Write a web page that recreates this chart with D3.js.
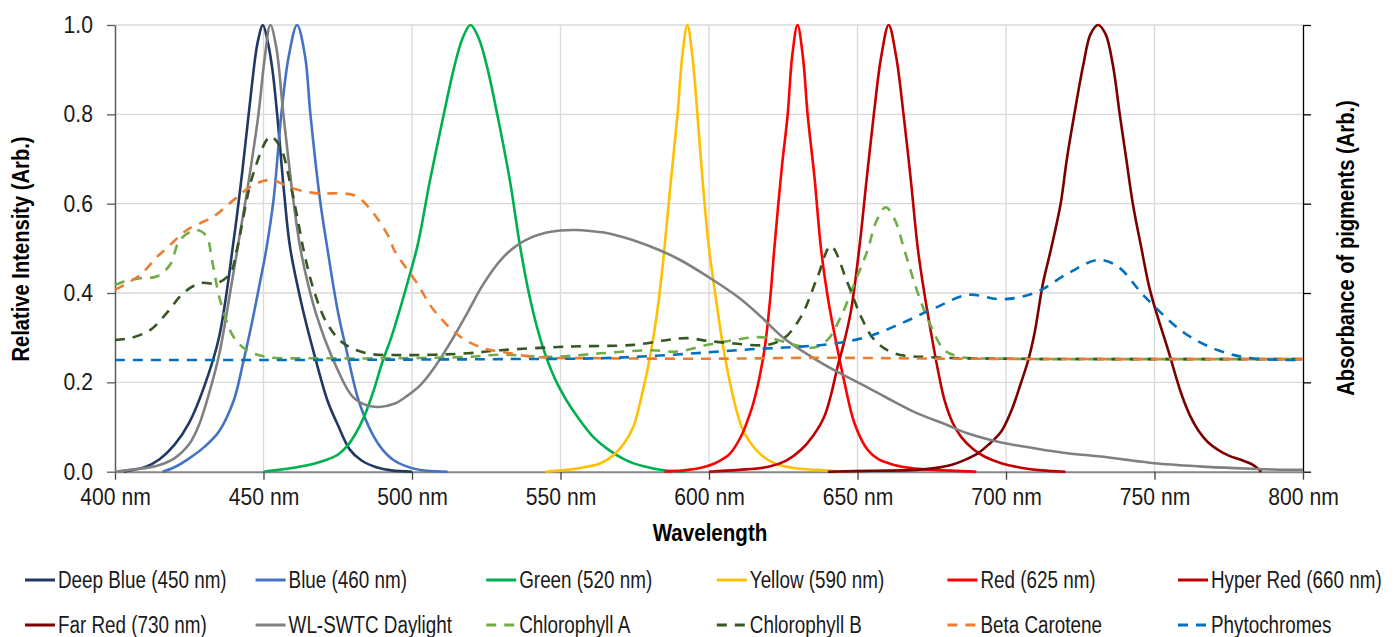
<!DOCTYPE html>
<html>
<head>
<meta charset="utf-8">
<script src="https://cdn.jsdelivr.net/npm/d3@7"></script>
<style>
  body { margin: 0; background: #fff; }
  text { font-family: "Liberation Sans", Arial, sans-serif; }
</style>
</head>
<body>
<div id="chart"></div>
<script>
"use strict";

// ---- data (wavelength nm, value) ----
const wavelengthTicks = [400, 450, 500, 550, 600, 650, 700, 750, 800];
const intensityTicks = [0, 0.2, 0.4, 0.6, 0.8, 1.0];

const seriesNames = [
  "Deep Blue (450 nm)", "Blue (460 nm)", "Green (520 nm)", "Yellow (590 nm)",
  "Red (625 nm)", "Hyper Red (660 nm)", "Far Red (730 nm)", "WL-SWTC Daylight",
  "Chlorophyll A", "Chlorophyll B", "Beta Carotene", "Phytochromes"
];

const deepBlue = [[403,0],[405,0.003],[410,0.01],[415,0.028],[420,0.06],[425,0.11],[430,0.19],[435,0.3],
  [440,0.52],[443,0.68],[446,0.86],[448,0.96],[449.8,1.0],[451.5,0.96],[453,0.9],[454.6,0.8],[457,0.62],
  [459,0.5],[463,0.37],[466.8,0.27],[471.5,0.16],[475,0.105],[479,0.05],[483,0.025],[488,0.01],[493,0.003],[500,0]];

const blue = [[416,0],[420,0.01],[425,0.03],[430,0.055],[435,0.09],[440,0.16],[443,0.24],[446,0.33],[449,0.43],
  [451,0.5],[453.4,0.61],[456,0.8],[458.5,0.93],[461.3,1.0],[464,0.93],[465.8,0.8],[469,0.61],[471.5,0.5],
  [475,0.36],[478,0.27],[482,0.16],[487,0.08],[490,0.05],[494,0.025],[500,0.008],[505,0.002],[512,0]];

const green = [[450,0],[455,0.004],[462,0.011],[467,0.018],[471,0.026],[475,0.038],[478,0.056],[481,0.085],
  [484,0.125],[487,0.18],[490,0.245],[493,0.3],[496,0.365],[499,0.435],[502,0.51],[506,0.65],[510.7,0.8],
  [514,0.9],[517,0.97],[519.7,1.0],[522.5,0.97],[525.5,0.9],[528.7,0.8],[533,0.65],[536.5,0.5],[540,0.38],
  [544,0.28],[548,0.21],[552,0.16],[556,0.12],[561,0.078],[566,0.05],[572,0.026],[578,0.012],[584,0.004],[592,0]];

const yellow = [[545,0],[552,0.004],[558,0.01],[563.5,0.019],[568,0.038],[571.5,0.064],[574.5,0.1],[577,0.16],
  [580.5,0.27],[583,0.38],[585,0.5],[587,0.64],[589.4,0.8],[591,0.93],[592.7,1.0],[594.4,0.93],[596.1,0.8],
  [598,0.64],[600,0.5],[602.5,0.38],[605,0.27],[608.4,0.16],[611,0.1],[614,0.064],[617.5,0.038],[622,0.019],
  [628,0.009],[636,0.004],[645,0]];

const red = [[585,0],[593,0.004],[598,0.01],[602,0.019],[607,0.04],[610.7,0.078],[613,0.115],[615.2,0.16],
  [618.6,0.27],[620.5,0.38],[622,0.5],[624.5,0.68],[626.5,0.8],[628,0.93],[629.8,1.0],[631.6,0.93],[633.2,0.8],
  [635.5,0.66],[637.7,0.5],[640,0.39],[642.2,0.31],[645.6,0.2],[649,0.108],[653.4,0.049],[657,0.028],
  [662.4,0.015],[668,0.008],[676,0.004],[690,0]];

const hyperRed = [[600,0],[610,0.004],[620,0.011],[626,0.025],[631,0.049],[635,0.08],[638.8,0.123],[641,0.17],
  [643.3,0.235],[645.5,0.29],[647.8,0.36],[650.6,0.5],[653,0.65],[655.5,0.8],[658,0.93],[660.5,1.0],
  [663,0.93],[665.5,0.8],[668,0.65],[670.3,0.5],[672.5,0.4],[674.8,0.31],[677,0.23],[679.3,0.16],[682,0.11],
  [684.9,0.078],[689,0.05],[692.7,0.034],[698.4,0.019],[705,0.009],[712,0.003],[720,0]];

const farRed = [[640,0],[655,0.002],[670,0.004],[676,0.008],[681.5,0.015],[686,0.026],[690.5,0.041],[694,0.06],
  [698.4,0.09],[702,0.14],[705,0.198],[707.5,0.25],[709.6,0.31],[712.4,0.42],[715.2,0.5],[718.4,0.6],
  [720.5,0.7],[723,0.8],[726,0.91],[728.5,0.98],[731,1.0],[733.5,0.98],[736,0.91],[738.3,0.8],[740.5,0.7],
  [742.7,0.6],[745.6,0.5],[748,0.42],[750,0.37],[754.6,0.272],[759,0.175],[762,0.125],[764.7,0.093],
  [768,0.066],[771.4,0.049],[775,0.036],[779.3,0.026],[783,0.016],[786,0]];

const daylight = [[400,0],[405,0.004],[410,0.008],[415,0.015],[420,0.03],[425,0.062],[428,0.1],[431,0.16],
  [435,0.26],[439,0.41],[442,0.53],[445,0.65],[448.3,0.8],[450.3,0.92],[452.3,1.0],[454.3,0.95],[456.7,0.8],
  [460,0.61],[462.4,0.5],[465,0.42],[468,0.347],[473.5,0.25],[480,0.168],[485,0.148],[489,0.145],[494,0.152],
  [498,0.168],[503,0.195],[507,0.228],[513,0.29],[518.6,0.355],[524,0.42],[530,0.475],[535,0.505],[540,0.524],
  [545,0.535],[550,0.54],[555,0.541],[560,0.539],[565,0.535],[570,0.527],[575,0.517],[583,0.497],[590,0.475],
  [600,0.435],[610,0.39],[617.5,0.347],[625,0.3],[635,0.255],[642,0.228],[653,0.19],[660,0.165],[670,0.131],
  [680,0.105],[687,0.086],[698,0.066],[710,0.052],[720,0.042],[732,0.034],[740,0.027],[750,0.019],[765,0.012],
  [777,0.008],[790,0.005],[800,0.004]];

const chlorophyllA = [[400,0.418],[404,0.428],[408.4,0.433],[414,0.437],[418.5,0.463],[421.9,0.519],[427.5,0.541],
  [430.9,0.526],[432.5,0.48],[435.4,0.384],[439.9,0.302],[444.4,0.272],[451,0.257],[470,0.254],[496,0.254],
  [518.6,0.257],[530,0.262],[546.7,0.257],[563.5,0.265],[580.4,0.272],[589.4,0.269],[599.5,0.284],[608.5,0.295],
  [615.2,0.301],[620.8,0.299],[628.7,0.284],[635.4,0.278],[639.9,0.295],[644.4,0.347],[649,0.422],[653.4,0.496],
  [656.3,0.56],[659.5,0.592],[662.5,0.565],[665.8,0.496],[670.3,0.4],[674.8,0.325],[679.3,0.272],[684.9,0.257],
  [700,0.253],[750,0.252],[800,0.252]];

const chlorophyllB = [[400,0.295],[405,0.299],[411.8,0.317],[417.4,0.355],[423,0.4],[428.7,0.422],[434.3,0.422],
  [438.8,0.444],[441,0.496],[446.6,0.668],[452.3,0.75],[455.6,0.728],[459,0.646],[462.4,0.534],[463.5,0.496],
  [466.9,0.407],[471.4,0.332],[477,0.287],[484.9,0.265],[496,0.261],[518.6,0.265],[529.8,0.272],[552.3,0.28],
  [574.7,0.284],[586,0.295],[592.7,0.299],[599.5,0.293],[608.5,0.287],[619.7,0.284],[625.3,0.299],[631,0.347],
  [636.6,0.437],[641,0.505],[646.7,0.422],[651.2,0.347],[655.7,0.295],[662.4,0.265],[675.9,0.256],[700,0.253],
  [750,0.252],[800,0.252]];

const betaCarotene = [[400,0.407],[408.4,0.44],[414,0.48],[417.4,0.5],[424.2,0.541],[433.1,0.571],[439.9,0.608],
  [446.6,0.642],[452.3,0.653],[460.1,0.634],[468,0.623],[477,0.623],[481.5,0.616],[487.1,0.578],[492.7,0.519],
  [494,0.496],[501.7,0.422],[507.3,0.362],[516.3,0.302],[524.2,0.276],[529.8,0.269],[541,0.257],[563.5,0.254],
  [600,0.253],[640,0.255],[680,0.253],[750,0.252],[800,0.252]];

const phytochromes = [[400,0.25],[450,0.25],[500,0.251],[529.8,0.252],[563.5,0.254],[580.4,0.259],[597.2,0.266],
  [614,0.274],[631,0.28],[642.2,0.287],[653.4,0.302],[664.7,0.332],[675.9,0.366],[687.2,0.396],[698.4,0.386],
  [709.6,0.4],[720.9,0.444],[731,0.474],[737.7,0.459],[746.7,0.392],[760.2,0.31],[771.4,0.272],[782.7,0.254],
  [800,0.25]];

// ---- styles ----
const seriesData = [deepBlue, blue, green, yellow, red, hyperRed, farRed, daylight,
  chlorophyllA, chlorophyllB, betaCarotene, phytochromes];
const seriesColors = ["#203864", "#4472C4", "#00B050", "#FFC000", "#FF0000", "#C00000", "#7B0000", "#808080",
  "#70AD47", "#375623", "#ED7D31", "#0070C0"];
const seriesDashed = [false, false, false, false, false, false, false, false, true, true, true, true];

const W = 1400, H = 637;
const plot = { left: 115, right: 1303, top: 25, bottom: 471.7 };
const narrow = 0.82;     // horizontal squeeze for legend text
const tickNarrow = 0.92; // tick labels are a bit wider
const titleNarrow = 0.84;

const svg = d3.select("#chart").append("svg").attr("width", W).attr("height", H);

const x = d3.scaleLinear().domain([400, 800]).range([plot.left, plot.right]);
const y = d3.scaleLinear().domain([0, 1]).range([plot.bottom, plot.top]);

// gridlines
svg.append("g").selectAll("line").data(intensityTicks.filter(d => d > 0)).enter().append("line")
  .attr("x1", plot.left).attr("x2", plot.right)
  .attr("y1", d => y(d)).attr("y2", d => y(d))
  .attr("stroke", "#d9d9d9").attr("stroke-width", 1.3);
svg.append("g").selectAll("line").data(wavelengthTicks.slice(1, -1)).enter().append("line")
  .attr("x1", d => x(d)).attr("x2", d => x(d))
  .attr("y1", plot.top).attr("y2", plot.bottom)
  .attr("stroke", "#d9d9d9").attr("stroke-width", 1.3);

// axes
const leftAxis = svg.append("g").attr("transform", `translate(${plot.left},0)`)
  .call(d3.axisLeft(y).tickValues(intensityTicks).tickFormat(d3.format(".1f")).tickSize(8).tickSizeOuter(0).tickPadding(14));
leftAxis.select(".domain").attr("stroke", "#595959").attr("stroke-width", 1.5);
leftAxis.selectAll(".tick line").attr("stroke", "#595959").attr("stroke-width", 1.3);

const rightAxis = svg.append("g").attr("transform", `translate(${plot.right},0)`)
  .call(d3.axisRight(y).tickValues(intensityTicks).tickFormat("").tickSize(8).tickSizeOuter(0));
rightAxis.select(".domain").attr("stroke", "#000").attr("stroke-width", 1.3);
rightAxis.selectAll(".tick line").attr("stroke", "#000").attr("stroke-width", 1.3);

const bottomAxis = svg.append("g").attr("transform", `translate(0,${plot.bottom})`)
  .call(d3.axisBottom(x).tickValues(wavelengthTicks).tickFormat(d => d + " nm").tickSize(8).tickSizeOuter(0).tickPadding(9));
bottomAxis.select(".domain").attr("stroke", "#868686").attr("stroke-width", 2);
bottomAxis.selectAll(".tick line").attr("stroke", "#404040").attr("stroke-width", 1.3);

svg.selectAll(".tick text")
  .attr("font-size", 23).attr("fill", "#1a1a1a")
  .style("font-family", '"Liberation Sans", Arial, sans-serif')
  .attr("x", function () { return (+d3.select(this).attr("x") || 0) / tickNarrow; })
  .attr("transform", `scale(${tickNarrow},1)`);

// series lines
const line = d3.line().x(d => x(d[0])).y(d => y(d[1])).curve(d3.curveCatmullRom.alpha(0.5));
svg.append("g").selectAll("path").data(seriesData).enter().append("path")
  .attr("d", d => line(d))
  .attr("fill", "none")
  .attr("stroke", (d, i) => seriesColors[i])
  .attr("stroke-width", 2.6)
  .attr("stroke-dasharray", (d, i) => seriesDashed[i] ? "10,8" : null)
  .attr("stroke-linejoin", "round");

// axis titles
svg.append("text").attr("transform", `translate(710,541) scale(${titleNarrow},1)`).attr("text-anchor", "middle")
  .attr("font-size", 24.5).attr("font-weight", "bold").text("Wavelength");
svg.append("text").attr("transform", `translate(29,249) rotate(-90) scale(${titleNarrow},1)`).attr("text-anchor", "middle")
  .attr("font-size", 24).attr("font-weight", "bold").text("Relative Intensity (Arb.)");
svg.append("text").attr("transform", `translate(1354,248) rotate(-90) scale(${titleNarrow},1)`).attr("text-anchor", "middle")
  .attr("font-size", 24).attr("font-weight", "bold").text("Absorbance of pigments (Arb.)");

// legend: 6 columns, 2 rows
const legend = svg.append("g");
const item = legend.selectAll("g").data(seriesNames).enter().append("g")
  .attr("transform", (d, i) => `translate(${25 + (i % 6) * 230.6},${580 + Math.floor(i / 6) * 45})`);
item.append("line").attr("x1", 0).attr("x2", 30).attr("y1", 0).attr("y2", 0)
  .attr("stroke", (d, i) => seriesColors[i]).attr("stroke-width", 3)
  .attr("stroke-dasharray", (d, i) => seriesDashed[i] ? "10,8" : null);
item.append("text").attr("transform", `translate(33,0) scale(${narrow},1)`).attr("dy", "0.35em")
  .attr("font-size", 23).attr("fill", "#1a1a1a").text(d => d);
</script>
</body>
</html>
